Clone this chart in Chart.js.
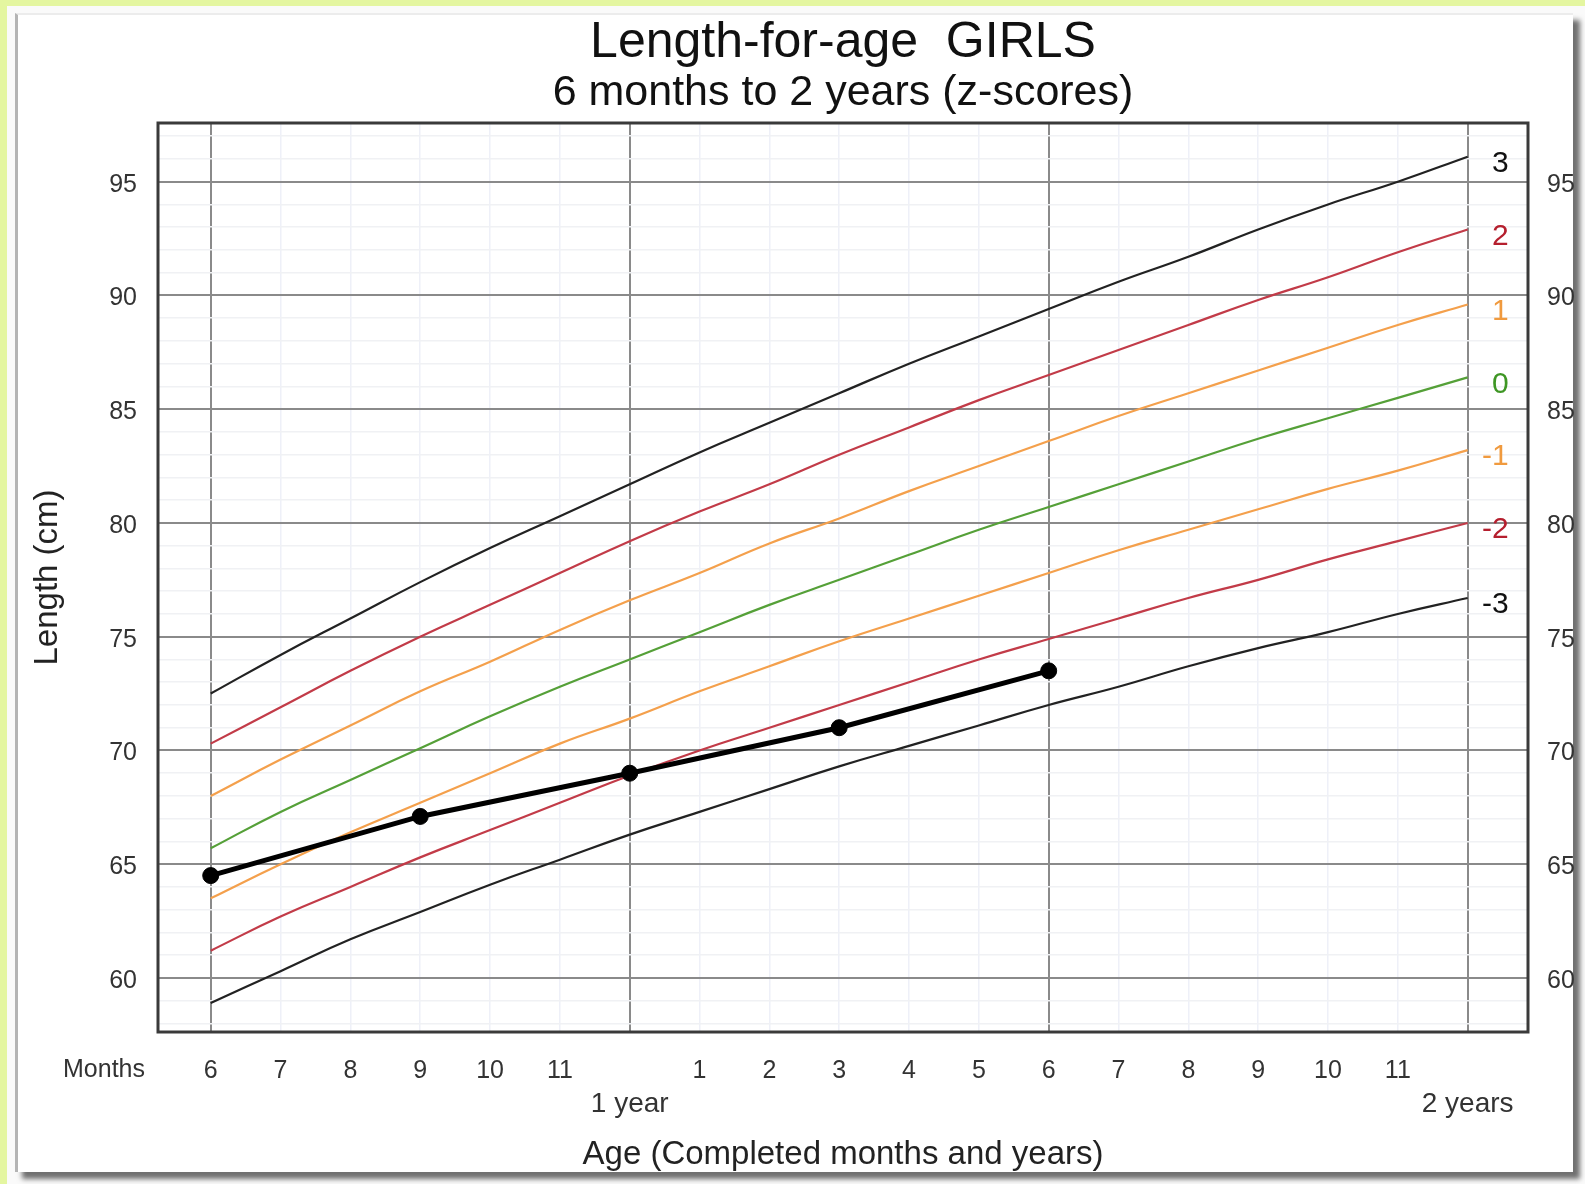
<!DOCTYPE html>
<html>
<head>
<meta charset="utf-8">
<title>Length-for-age GIRLS</title>
<script src="https://cdn.jsdelivr.net/npm/chart.js@4.4.1/dist/chart.umd.min.js"></script>
<style>
    html, body { margin: 0; padding: 0; }
    body {
        width: 1585px;
        height: 1184px;
        background: #e4f6a0;
        position: relative;
        overflow: hidden;
    }
    .sheet { position: absolute; left: 7px; top: 6px; right: 0; bottom: 0; background: #fafafa; }
    .card {
        position: absolute;
        left: 8px;
        top: 7px;
        width: 1555px;
        height: 1157px;
        background: #fff;
        border-left: 3px solid #b4b4b4;
        border-top: 2px solid #ececec;
        box-shadow: 7px 7px 5px #707070;
    }
    #chartBox { position: absolute; left: 0; top: 0; width: 1585px; height: 1184px; }
</style>
</head>
<body>
<div class="sheet"><div class="card"></div></div>
<div id="chartBox"><canvas id="growthChart" width="1585" height="1184"></canvas></div>

<script>
// WHO length-for-age, girls (cm), read month by month
const ages = [6, 7, 8, 9, 10, 11, 12, 13, 14, 15, 16, 17, 18, 19, 20, 21, 22, 23, 24];
const sdNeg3 = [58.9, 60.3, 61.7, 62.9, 64.1, 65.2, 66.3, 67.3, 68.3, 69.3, 70.2, 71.1, 72.0, 72.8, 73.7, 74.5, 75.2, 76.0, 76.7];
const sdNeg2 = [61.2, 62.7, 64.0, 65.3, 66.5, 67.7, 68.9, 70.0, 71.0, 72.0, 73.0, 74.0, 74.9, 75.8, 76.7, 77.5, 78.4, 79.2, 80.0];
const sdNeg1 = [63.5, 65.0, 66.4, 67.7, 69.0, 70.3, 71.4, 72.6, 73.7, 74.8, 75.8, 76.8, 77.8, 78.8, 79.7, 80.6, 81.5, 82.3, 83.2];
const sdMedian = [65.7, 67.3, 68.7, 70.1, 71.5, 72.8, 74.0, 75.2, 76.4, 77.5, 78.6, 79.7, 80.7, 81.7, 82.7, 83.7, 84.6, 85.5, 86.4];
const sdPos1 = [68.0, 69.6, 71.1, 72.6, 73.9, 75.3, 76.6, 77.8, 79.1, 80.2, 81.4, 82.5, 83.6, 84.7, 85.7, 86.7, 87.7, 88.7, 89.6];
const sdPos2 = [70.3, 71.9, 73.5, 75.0, 76.4, 77.8, 79.2, 80.5, 81.7, 83.0, 84.2, 85.4, 86.5, 87.6, 88.7, 89.8, 90.8, 91.9, 92.9];
const sdPos3 = [72.5, 74.2, 75.8, 77.4, 78.9, 80.3, 81.7, 83.1, 84.4, 85.7, 87.0, 88.2, 89.4, 90.6, 91.7, 92.9, 94.0, 95.0, 96.1];

// the girl's own measurements
const childAges = [6, 9, 12, 15, 18];
const childLengths = [64.5, 67.1, 69.0, 71.0, 73.5];

// ticks and labels
const lengthTicks = [60, 65, 70, 75, 80, 85, 90, 95];
const gridLengths = Array.from({ length: 40 }, (_, i) => 58 + i);
const monthTicks = ages;
const monthLabels = ['6', '7', '8', '9', '10', '11', '', '1', '2', '3', '4', '5', '6', '7', '8', '9', '10', '11', ''];
const yearTicks = [12, 24];
const yearLabels = ['1 year', '2 years'];
const zLabels = ['-3', '-2', '-1', '0', '1', '2', '3'];

const zCurves = [sdNeg3, sdNeg2, sdNeg1, sdMedian, sdPos1, sdPos2, sdPos3];
const curveColors = ['#222222', '#c23b48', '#f4a04c', '#55a038', '#f4a04c', '#c23b48', '#222222'];
const labelColors = ['#111111', '#b51f2e', '#f09a3e', '#3e9624', '#f09a3e', '#b51f2e', '#111111'];

const X_MIN = 5.245, X_MAX = 24.864;
const Y_MIN = 57.625, Y_MAX = 97.58;
const FONT = "'Liberation Sans', Arial, Helvetica, sans-serif";

Chart.defaults.font.family = FONT;
Chart.defaults.color = '#333';

const isMajorMonth = (c) => c.tick && c.tick.value % 6 === 0;
const isMajorLength = (c) => c.tick && c.tick.value % 5 === 0;

const chartFrame = {
    id: 'chartFrame',
    afterDatasetsDraw(chart) {
        const { ctx, chartArea: a } = chart;
        ctx.save();
        ctx.strokeStyle = '#3a3a3a';
        ctx.lineWidth = 3;
        ctx.strokeRect(a.left, a.top, a.right - a.left, a.bottom - a.top);
        ctx.restore();
    }
};

const sideLabels = {
    id: 'sideLabels',
    afterDraw(chart) {
        const { ctx, scales } = chart;
        ctx.save();
        ctx.font = `30px ${FONT}`;
        ctx.textAlign = 'right';
        ctx.textBaseline = 'middle';
        zLabels.forEach((label, i) => {
            const meta = chart.getDatasetMeta(i + 1);
            const last = meta.data[meta.data.length - 1];
            ctx.fillStyle = labelColors[i];
            ctx.fillText(label, last.x + 41, last.y + 7);
        });

        ctx.font = `25px ${FONT}`;
        ctx.textAlign = 'center';
        ctx.fillStyle = '#333';
        ctx.fillText('Months', scales.y.left + 84, scales.x.top + 38);
        ctx.restore();
    }
};

const lengthTickOptions = (padding) => ({
    autoSkip: false,
    padding,
    labelOffset: 3,
    color: '#333',
    font: { size: 25 },
    callback: (value) => lengthTicks.includes(value) ? String(value) : ''
});

const datasets = [
    {
        label: 'Child',
        data: childAges.map((x, i) => ({ x, y: childLengths[i] })),
        borderColor: '#000',
        backgroundColor: '#000',
        borderWidth: 5,
        pointRadius: 8,
        pointBorderWidth: 1,
        order: 0
    },
    ...zCurves.map((values, i) => ({
        label: `z ${zLabels[i]}`,
        data: ages.map((x, j) => ({ x, y: values[j] })),
        borderColor: curveColors[i],
        borderWidth: 2.2,
        pointRadius: 0,
        tension: 0.45,
        order: 1
    }))
];

new Chart(document.getElementById('growthChart'), {
    type: 'line',
    data: { datasets },
    options: {
        responsive: false,
        animation: false,
        events: [],
        layout: { padding: { left: 20, right: 0, top: 0, bottom: 9 } },
        plugins: {
            legend: { display: false },
            tooltip: { enabled: false },
            title: {
                display: true,
                fullSize: false,
                text: 'Length-for-age  GIRLS',
                color: '#111',
                font: { size: 50, weight: 'normal', lineHeight: 1 },
                padding: { top: 18.5, bottom: 0 }
            },
            subtitle: {
                display: true,
                fullSize: false,
                text: '6 months to 2 years (z-scores)',
                color: '#111',
                font: { size: 43, weight: 'normal', lineHeight: 1 },
                padding: { top: 3.5, bottom: 8 }
            }
        },
        scales: {
            x: {
                type: 'linear',
                position: 'bottom',
                weight: 0,
                min: X_MIN,
                max: X_MAX,
                afterBuildTicks: (scale) => { scale.ticks = monthTicks.map(value => ({ value })); },
                afterFit: (scale) => { scale.height = 53; },
                grid: {
                    drawTicks: false,
                    color: (c) => isMajorMonth(c) ? '#8a8a8a' : '#eef0f8',
                    lineWidth: (c) => isMajorMonth(c) ? 2 : 1.5
                },
                border: { display: false },
                ticks: {
                    autoSkip: false,
                    maxRotation: 0,
                    minRotation: 0,
                    padding: 24,
                    color: '#333',
                    font: { size: 25 },
                    callback: (value, index) => monthLabels[index]
                }
            },
            x2: {
                type: 'linear',
                position: 'bottom',
                weight: 1,
                min: X_MIN,
                max: X_MAX,
                afterBuildTicks: (scale) => { scale.ticks = yearTicks.map(value => ({ value })); },
                afterFit: (scale) => { scale.height = 90; },
                grid: { display: false, drawTicks: false },
                border: { display: false },
                ticks: {
                    autoSkip: false,
                    maxRotation: 0,
                    minRotation: 0,
                    padding: 2,
                    color: '#333',
                    font: { size: 28 },
                    callback: (value, index) => yearLabels[index]
                },
                title: {
                    display: true,
                    text: 'Age (Completed months and years)',
                    color: '#222',
                    font: { size: 33 },
                    padding: { top: 0, bottom: 0 }
                }
            },
            y: {
                type: 'linear',
                position: 'left',
                min: Y_MIN,
                max: Y_MAX,
                afterBuildTicks: (scale) => { scale.ticks = gridLengths.map(value => ({ value })); },
                afterFit: (scale) => { scale.width = 138; },
                grid: {
                    drawTicks: false,
                    color: (c) => isMajorLength(c) ? '#8a8a8a' : '#f0f1f4',
                    lineWidth: (c) => isMajorLength(c) ? 2 : 1.5
                },
                border: { display: false },
                ticks: lengthTickOptions(21),
                title: {
                    display: true,
                    text: 'Length (cm)',
                    color: '#222',
                    font: { size: 33 },
                    padding: { top: 8, bottom: 0 }
                }
            },
            y2: {
                type: 'linear',
                position: 'right',
                min: Y_MIN,
                max: Y_MAX,
                afterBuildTicks: (scale) => { scale.ticks = gridLengths.map(value => ({ value })); },
                afterFit: (scale) => { scale.width = 57; },
                grid: { drawOnChartArea: false, drawTicks: false },
                border: { display: false },
                ticks: lengthTickOptions(19)
            }
        }
    },
    plugins: [chartFrame, sideLabels]
});
</script>
</body>
</html>
